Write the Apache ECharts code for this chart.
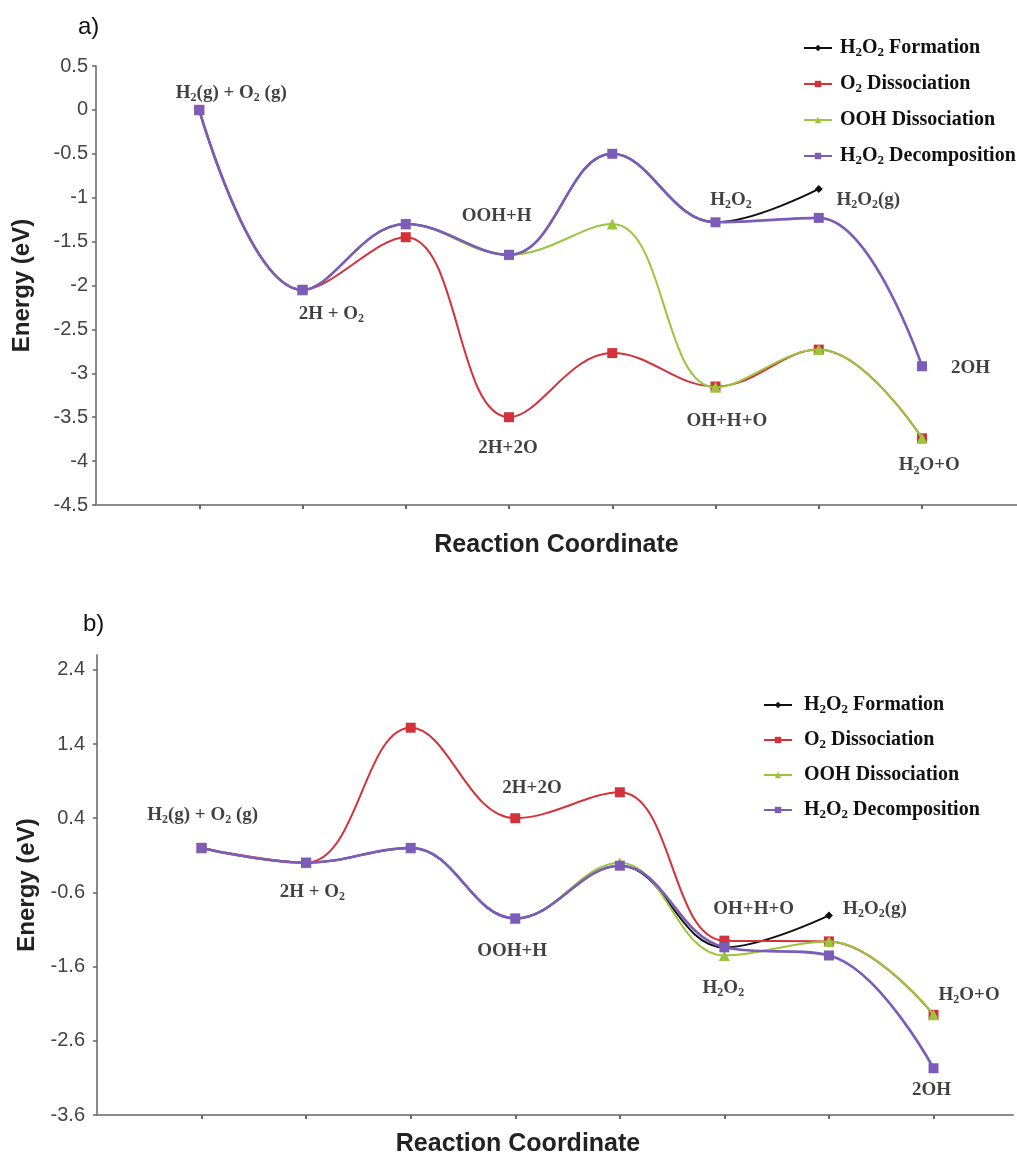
<!DOCTYPE html>
<html><head><meta charset="utf-8">
<script src="https://cdn.jsdelivr.net/npm/echarts@6/dist/echarts.min.js"></script>
<style>html,body{margin:0;padding:0;background:#fff}#c{width:1017px;height:1158px}</style>
</head><body><div id="c"></div>
<script>
// reaction steps (x positions on the reaction coordinate)
const steps = [1, 2, 3, 4, 5, 6, 7, 8];
const seriesNames = ['H2O2 Formation', 'O2 Dissociation', 'OOH Dissociation', 'H2O2 Decomposition'];
const seriesRich = ['H{s|2}O{s|2} Formation', 'O{s|2} Dissociation', 'OOH Dissociation', 'H{s|2}O{s|2} Decomposition'];

// panel a) energies (eV)
const formationA = [0, -2.05, -1.3, -1.65, -0.5, -1.28, -0.9];
const o2DissA    = [0, -2.05, -1.45, -3.5, -2.77, -3.15, -2.73, -3.74];
const oohDissA   = [0, -2.05, -1.3, -1.65, -1.3, -3.16, -2.73, -3.74];
const decompA    = [0, -2.05, -1.3, -1.65, -0.5, -1.28, -1.23, -2.92];

// panel b) energies (eV)
const formationB = [0, -0.2, 0, -0.95, -0.24, -1.34, -0.91];
const o2DissB    = [0, -0.2, 1.62, 0.4, 0.75, -1.25, -1.26, -2.25];
const oohDissB   = [0, -0.2, 0, -0.95, -0.2, -1.45, -1.26, -2.25];
const decompB    = [0, -0.2, 0, -0.95, -0.24, -1.34, -1.45, -2.97];

// y tick labels
const yTicksA = [-4.5, -4, -3.5, -3, -2.5, -2, -1.5, -1, -0.5, 0, 0.5];
const yTicksB = [-3.6, -2.6, -1.6, -0.6, 0.4, 1.4, 2.4];

// state annotations: text and anchor in data coordinates [step, energy]
const stateTextA = ['H{s|2}(g) + O{s|2} (g)', '2H + O{s|2}', 'OOH+H', '2H+2O', 'H{s|2}O{s|2}', 'H{s|2}O{s|2}(g)', 'OH+H+O', '2OH', 'H{s|2}O+O'];
const stateAnchorA = [[1.31, 0.19], [2.28, -2.32], [3.88, -1.21], [3.99, -3.85], [6.15, -1.03], [7.48, -1.03], [6.11, -3.54], [8.47, -2.94], [8.07, -4.05]];
const stateTextB = ['H{s|2}(g) + O{s|2} (g)', '2H + O{s|2}', 'OOH+H', '2H+2O', 'OH+H+O', 'H{s|2}O{s|2}(g)', 'H{s|2}O{s|2}', 'H{s|2}O+O', '2OH'];
const stateAnchorB = [[1.01, 0.44], [2.06, -0.59], [3.97, -1.39], [4.16, 0.81], [6.28, -0.82], [7.44, -0.82], [5.99, -1.89], [8.34, -1.98], [7.98, -3.27]];

const colors = ['#111111', '#d3323a', '#9bc53d', '#7b5cb8'];
const symbols = ['diamond', 'rect', 'triangle', 'rect'];
const symSizes = [8, 10, 11, 10];
const widths = [2, 2, 2, 2.6];

const serif = 'Liberation Serif';
const sans = 'Liberation Sans';
const subStyle = { fontSize: 12, lineHeight: 12, verticalAlign: 'bottom', fontFamily: serif, fontWeight: 'bold', color: '#111' };

function pairs(vals) { return vals.map((v, i) => [steps[i], v]); }

function lineSeries(idx, vals, gi) {
  return {
    type: 'line', name: seriesNames[idx], xAxisIndex: gi, yAxisIndex: gi,
    data: pairs(vals), smooth: 0.4, showSymbol: true, symbol: symbols[idx], symbolSize: symSizes[idx],
    lineStyle: { color: colors[idx], width: widths[idx] },
    itemStyle: { color: colors[idx] }, z: 2 + idx
  };
}
function labelSeries(texts, anchors, gi) {
  return {
    type: 'scatter', name: 'states', xAxisIndex: gi, yAxisIndex: gi, silent: true, z: 10,
    symbolSize: 1, itemStyle: { color: 'rgba(0,0,0,0)' },
    data: anchors.map((a, i) => [a[0], a[1], texts[i]]),
    label: {
      show: true, position: 'inside', formatter: p => p.data[2],
      fontFamily: serif, fontWeight: 'bold', fontSize: 19, lineHeight: 22, color: '#111',
      rich: { s: subStyle }
    }
  };
}
function legendCfg(left, top, gap, pad) {
  return {
    orient: 'vertical', left: left, top: top, itemWidth: 28, itemHeight: 8, itemGap: gap,
    data: seriesNames, selectedMode: false,
    formatter: n => seriesRich[seriesNames.indexOf(n)],
    textStyle: { fontFamily: serif, fontWeight: 'bold', fontSize: 20, lineHeight: 22, color: '#111', padding: pad,
      rich: { s: Object.assign({}, subStyle, { fontSize: 13, lineHeight: 13 }) } }
  };
}
function xAxisCfg(gi, max, gap, pad) {
  return {
    type: 'value', gridIndex: gi, min: 0, max: max,
    axisLine: { show: true, onZero: false, lineStyle: { color: '#8a8a8a', width: 2 } },
    axisTick: { show: true, customValues: steps, length: 4, lineStyle: { color: '#666', width: 2 } },
    axisLabel: { show: false }, splitLine: { show: false },
    name: 'Reaction Coordinate', nameLocation: 'middle', nameGap: gap,
    nameTextStyle: { fontFamily: sans, fontWeight: 'bold', fontSize: 25, color: '#222', padding: pad }
  };
}
function yAxisCfg(gi, min, max, ticks, gap, margin) {
  return {
    type: 'value', gridIndex: gi, min: min, max: max,
    axisLine: { show: true, onZero: false, lineStyle: { color: '#8a8a8a', width: 2 } },
    axisTick: { show: true, customValues: ticks, length: 4, lineStyle: { color: '#666', width: 1.5 } },
    axisLabel: { customValues: ticks, fontFamily: sans, fontSize: 20, color: '#444', margin: margin },
    splitLine: { show: false },
    name: 'Energy (eV)', nameLocation: 'middle', nameGap: gap, nameRotate: 90,
    nameTextStyle: { fontFamily: sans, fontWeight: 'bold', fontSize: 24, color: '#222' }
  };
}

const chart = echarts.init(document.getElementById('c'), null, { renderer: 'canvas' });
chart.setOption({
  animation: false,
  backgroundColor: '#fff',
  title: [
    { text: 'a)', left: 73, top: 10, textStyle: { fontFamily: sans, fontWeight: 'normal', fontSize: 24, color: '#111' } },
    { text: 'b)', left: 78, top: 607, textStyle: { fontFamily: sans, fontWeight: 'normal', fontSize: 24, color: '#111' } }
  ],
  legend: [legendCfg(798, 32, 14, [0, 0, 0, 3]), legendCfg(758, 689, 13, [0, 0, 0, 7])],
  grid: [
    { left: 96, right: 0, top: 66, height: 439 },
    { left: 97, right: 4, top: 655, height: 463 }
  ],
  xAxis: [xAxisCfg(0, 8.92, 28, 0), xAxisCfg(1, 8.76, 17, [0, 74, 0, 0])],
  yAxis: [yAxisCfg(0, -4.5, 0.5, yTicksA, 62, 8), yAxisCfg(1, -3.6, 2.6, yTicksB, 55, 12)],
  series: [
    lineSeries(0, formationA, 0), lineSeries(1, o2DissA, 0), lineSeries(2, oohDissA, 0), lineSeries(3, decompA, 0),
    lineSeries(0, formationB, 1), lineSeries(1, o2DissB, 1), lineSeries(2, oohDissB, 1), lineSeries(3, decompB, 1),
    labelSeries(stateTextA, stateAnchorA, 0), labelSeries(stateTextB, stateAnchorB, 1)
  ]
});
</script></body></html>
